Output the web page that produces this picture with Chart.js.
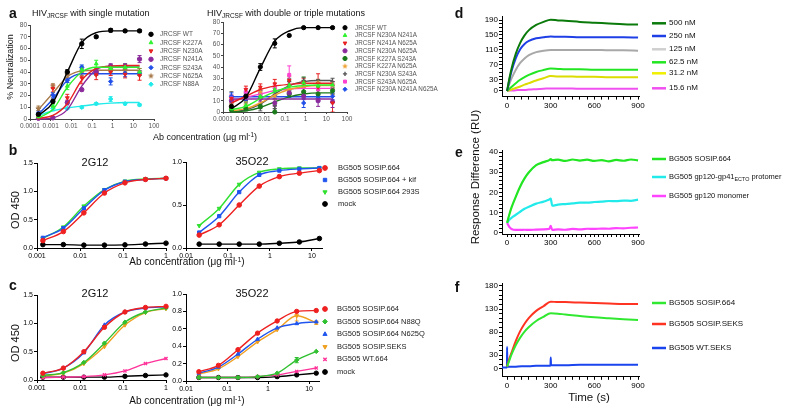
<!DOCTYPE html>
<html><head><meta charset="utf-8">
<script src="https://cdn.jsdelivr.net/npm/chart.js@4.4.1/dist/chart.umd.min.js"></script>
<style>
html,body{margin:0;padding:0;background:#fff;}
body{width:800px;height:415px;overflow:hidden;position:relative;font-family:"Liberation Sans",Arial,Helvetica,sans-serif;}
canvas{position:absolute;}
.t{position:absolute;white-space:nowrap;line-height:1;color:#111;}
.t sub{font-size:72%;vertical-align:-0.35em;line-height:0;}
.t sup{font-size:70%;vertical-align:0.45em;line-height:0;}
</style></head><body>
<script>
// ================= DATA =================
// ---- panel a ----
const aConc = [0.000256, 0.00128, 0.0064, 0.032, 0.16, 0.8, 4, 20];
const aXTicks = [0.0001, 0.001, 0.01, 0.1, 1, 10, 100];
const aXLabels = ['0.0001', '0.001', '0.01', '0.1', '1', '10', '100'];
const aYTicks = [0, 10, 20, 30, 40, 50, 60, 70, 80];
const aYLabels = ['0', '10', '20', '30', '40', '50', '60', '70', '80'];

const aSingleNames = ['JRCSF WT', 'JRCSF K227A', 'JRCSF N230A', 'JRCSF N241A', 'JRCSF S243A', 'JRCSF N625A', 'JRCSF N88A'];
const aSinglePts = [
  [4, 15, 40, 64, 70, 75.5, 75, 75],
  [2, 11, 28, 42, 47, 43, 44, 40],
  [1.5, 26, 18, 35, 37.5, 40, 38, 37],
  [0.6, 1, 14, 25, 40, 45, 45, 51],
  [5, 20.5, 33, 44, 39, 32, 39, 39],
  [9, 28, 38, 40, 40, 41.5, 41.5, 40],
  [4, 9, 9, 10, 13, 17, 13, 12]
];
const aSingleFit = [
  [3, 14, 40, 65, 73.5, 75, 75, 75],
  [1, 8, 27, 40, 44, 44, 44, 44],
  [0.5, 3, 13, 33, 43, 45, 45.5, 45.5],
  [0, 1, 8, 28, 42, 45, 45, 45],
  [4, 17, 33, 38.5, 38.5, 38.5, 38.5, 38.5],
  [8, 22, 36, 41, 41.5, 41.5, 41.5, 41.5],
  [3, 7, 9.5, 11, 12.5, 13.5, 14, 14]
];
const aSingleErr = [
  [5, 2, 2, 4, 1, 1.5, 1, 1],
  [2, 2, 3, 3, 3, 3, 3, 3],
  [1, 3, 3, 5, 4, 3, 3, 4],
  [1, 1, 2, 1, 2, 2, 2, 3],
  [2, 2, 2, 2, 2, 3, 3, 2],
  [2, 2, 3, 3, 3, 3, 3, 3],
  [1, 2, 1, 1, 1, 2, 1, 1]
];

const aMultiNames = ['JRCSF WT', 'JRCSF N230A N241A', 'JRCSF N241A N625A', 'JRCSF N230A N625A', 'JRCSF K227A S243A',
  'JRCSF K227A N625A', 'JRCSF N230A S243A', 'JRCSF S243A N625A', 'JRCSF N230A N241A N625A'];
const aMultiPts = [
  [5, 14, 40, 61, 68, 75, 75, 75],
  [3, 6, 14, 20, 24, 26, 23, 24],
  [12, 20, 22, 25, 28, 26, 22, 8],
  [10, 14, 12, 8, 17, 14, 10, 9],
  [2, 3, 5, 0, 16, 18, 16, 19],
  [5, 6, 18, 14, 20, 25, 26, 24],
  [3, 5, 4, 3, 27, 28, 26, 27],
  [12, 18, 17, 22, 33, 24, 20, 24],
  [14, 13, 16, 15, 16, 8, 12, 14]
];
const aMultiFit = [
  [3, 13, 39, 63, 72, 75, 75, 75],
  [2, 5, 12, 18, 22, 23.5, 24, 24],
  [8, 14, 20, 23, 24.5, 25.5, 25.5, 25.5],
  [11.5, 11.5, 11.5, 11.5, 11.5, 11.5, 11.5, 11.5],
  [0, 1, 4, 9, 13.5, 16, 17, 17],
  [1, 3, 8, 15, 20, 22.5, 23.5, 23.5],
  [0, 2, 7, 16, 23.5, 27, 28, 28],
  [10, 13, 16, 19, 20.5, 21, 21, 21],
  [13.6, 13.6, 13.6, 13.6, 13.6, 13.6, 13.6, 13.6]
];
const aMultiErr = [
  [3, 4, 3, 4, 1, 1, 1, 1],
  [2, 3, 3, 3, 4, 5, 3, 3],
  [3, 3, 3, 4, 4, 4, 12, 8],
  [3, 3, 3, 3, 3, 3, 5, 5],
  [2, 2, 2, 6, 3, 3, 3, 3],
  [2, 3, 3, 3, 3, 3, 3, 3],
  [15, 3, 3, 3, 3, 3, 3, 3],
  [3, 3, 3, 3, 8, 3, 3, 3],
  [3, 3, 3, 3, 3, 4, 3, 3]
];

// ---- panels b, c ----
const conc2G12 = [0.00137, 0.0041, 0.0123, 0.037, 0.111, 0.333, 1];
const conc35O22 = [0.0206, 0.0617, 0.185, 0.556, 1.67, 5, 15];
const x2G12Ticks = [0.001, 0.01, 0.1, 1];
const x2G12Labels = ['0.001', '0.01', '0.1', '1'];
const x35O22Ticks = [0.01, 0.1, 1, 10];
const x35O22Labels = ['0.01', '0.1', '1', '10'];
const od15Ticks = [0, 0.5, 1.0, 1.5];
const od15Labels = ['0.0', '0.5', '1.0', '1.5'];
const od10Ticks = [0, 0.5, 1.0];
const od10Labels = ['0.0', '0.5', '1.0'];
const od10FineTicks = [0, 0.2, 0.4, 0.6, 0.8, 1.0];
const od10FineLabels = ['0.0', '0.2', '0.4', '0.6', '0.8', '1.0'];

const bNames = ['BG505 SOSIP.664', 'BG505 SOSIP.664 + kif', 'BG505 SOSIP.664 293S', 'mock'];
const b2G12 = [
  [0.13, 0.29, 0.62, 0.97, 1.15, 1.21, 1.23],
  [0.18, 0.35, 0.70, 1.02, 1.17, 1.21, 1.23],
  [0.17, 0.37, 0.74, 1.03, 1.18, 1.22, 1.23],
  [0.06, 0.06, 0.05, 0.05, 0.055, 0.07, 0.085]
];
const b35O22 = [
  [0.15, 0.27, 0.50, 0.72, 0.83, 0.87, 0.90],
  [0.18, 0.37, 0.65, 0.85, 0.90, 0.92, 0.93],
  [0.26, 0.46, 0.74, 0.88, 0.92, 0.93, 0.93],
  [0.045, 0.045, 0.045, 0.045, 0.055, 0.07, 0.11]
];

const cNames = ['BG505 SOSIP.664', 'BG505 SOSIP.664 N88Q', 'BG505 SOSIP.664 N625Q', 'BG505 SOSIP.SEKS', 'BG505 WT.664', 'mock'];
const c2G12 = [
  [0.12, 0.21, 0.50, 0.93, 1.20, 1.28, 1.30],
  [0.08, 0.13, 0.31, 0.65, 1.02, 1.20, 1.27],
  [0.11, 0.21, 0.48, 0.97, 1.20, 1.27, 1.29],
  [0.07, 0.12, 0.29, 0.59, 0.97, 1.19, 1.26],
  [0.04, 0.05, 0.06, 0.09, 0.16, 0.29, 0.38],
  [0.05, 0.05, 0.05, 0.05, 0.065, 0.08, 0.09]
];
const c35O22 = [
  [0.107, 0.18, 0.36, 0.55, 0.69, 0.80, 0.81],
  [0.04, 0.04, 0.04, 0.05, 0.09, 0.24, 0.34],
  [0.09, 0.16, 0.31, 0.48, 0.61, 0.66, 0.68],
  [0.08, 0.14, 0.28, 0.45, 0.59, 0.75, 0.67],
  [0.04, 0.04, 0.04, 0.05, 0.07, 0.11, 0.15],
  [0.04, 0.04, 0.04, 0.04, 0.05, 0.07, 0.09]
];
const c35O22Err = [
  [0, 0, 0, 0, 0, 0, 0],
  [0, 0, 0, 0, 0, 0.03, 0],
  [0, 0, 0, 0, 0, 0, 0],
  [0, 0, 0, 0, 0, 0.06, 0.02],
  [0, 0, 0, 0, 0, 0, 0],
  [0, 0, 0, 0, 0, 0, 0]
];

// ---- panel d ----
const dNames = ['500 nM', '250 nM', '125 nM', '62.5 nM', '31.2 nM', '15.6 nM'];
const dTime = [0, 15, 30, 60, 90, 120, 150, 200, 250, 300, 350, 400, 500, 600, 700, 800, 900];
const d500 = [0, 32, 59, 100, 129, 149, 163, 177, 185, 191, 189, 188, 185, 183, 181, 179, 178];
const d250 = [0, 28, 52, 88, 112, 126, 134, 141, 144, 146, 145, 145, 144, 144, 144, 144, 143];
const d125 = [0, 18, 33, 57, 75, 87, 96, 104, 108, 110, 110, 110, 110, 110, 109, 109, 108];
const d62 = [0, 6, 11, 21, 30, 37, 43, 51, 56, 60, 59, 58, 58, 57, 57, 57, 57];
const d31 = [0, 2, 4, 8, 12, 17, 21, 28, 34, 40, 39, 39, 38, 38, 37, 37, 37];
const d15 = [0, 1, 1, 2, 3, 3, 4, 5, 6, 7, 7, 7, 6, 6, 6, 6, 6];
const dYLabelled = [0, 30, 70, 110, 150, 190];

// ---- panel e ----
const eNames = ['BG505 SOSIP.664', 'BG505 gp120-gp41<sub>ECTO</sub> protomer', 'BG505 gp120 monomer'];
const eTime = [0, 15, 30, 60, 90, 120, 150, 200, 250, 290, 300, 310, 350, 400, 450, 500, 550, 600, 650, 700, 750, 800, 850, 900];
const eSOSIP = [5, 9, 12.5, 18, 23, 27, 30, 33.5, 35, 36, 36.5, 36, 36.2, 35.6, 36.3, 35.8, 36.2, 35.6, 36, 35.4, 36.1, 35.7, 36.3, 35.9];
const eProtomer = [5, 6.5, 7.5, 9, 10.5, 12, 13, 14.5, 15.5, 16.5, 17, 13.5, 14, 14.3, 14.6, 15, 15, 15.3, 15.5, 15.8, 15.7, 16, 15.9, 16.5];
const eMonomer = [5, 3, 2, 1.5, 1.5, 1.6, 1.5, 1.7, 1.8, 2, 3.5, 1.5, 1.8, 1.6, 2, 1.8, 2.1, 2, 2.2, 2.1, 2.4, 2.3, 2.6, 2.7];
const eYLabelled = [0, 10, 20, 30, 40];

// ---- panel f ----
const fNames = ['BG505 SOSIP.664', 'BG505 SOSIP.SEKS', 'BG505 WT.SEKS'];
const fTime = [0, 15, 30, 60, 90, 120, 150, 200, 250, 300, 350, 400, 500, 600, 700, 800, 900];
const fSOSIP = [5, 18, 31, 52, 68, 81, 91, 104, 113, 121, 120, 118, 115, 112, 110, 108, 106];
const fSEKS = [5, 22, 35, 61, 82, 98, 111, 126, 136, 146, 145, 145, 144, 143, 142, 141, 141];
const fWTTime = [-35, -1, 0, 2, 50, 100, 150, 200, 250, 298, 300, 302, 400, 500, 600, 700, 800, 900];
const fWT = [3, 3, 48, 5, 5, 6, 6, 7, 7, 7, 25, 8, 8, 9, 9, 9, 9, 9];
const fYLabelled = [0, 30, 80, 130, 180];

const timeLabelled = [0, 300, 600, 900];

// ================= STYLES =================
const FONT = '"Liberation Sans", Arial, Helvetica, sans-serif';
Chart.defaults.font.family = FONT;
const aSingleStyle = [
  {s: 'circle', c: '#000000'}, {s: 'triangle', c: '#2ef22e'}, {s: 'triangleDown', c: '#e82020'},
  {s: 'circle', c: '#8b2a9b'}, {s: 'rectRot', c: '#1f4fe8'}, {s: 'star', c: '#a87a4a'}, {s: 'rectRot', c: '#20eaea'}
];
const aMultiStyle = [
  {s: 'circle', c: '#000000'}, {s: 'triangle', c: '#2ef22e'}, {s: 'triangleDown', c: '#e82020'},
  {s: 'circle', c: '#8b2a9b'}, {s: 'circle', c: '#1a7a1a'}, {s: 'star', c: '#eea030'},
  {s: 'cross', c: '#555555'}, {s: 'rect', c: '#ff40d0'}, {s: 'rectRot', c: '#1f4fe8'}
];
const bStyle = [{s: 'circle', c: '#ee2020'}, {s: 'rect', c: '#1f55ee'}, {s: 'triangleDown', c: '#30e030'}, {s: 'circle', c: '#000000'}];
const cStyle = [{s: 'circle', c: '#ee2020'}, {s: 'rectRot', c: '#30c030'}, {s: 'triangle', c: '#1f55ee'},
  {s: 'triangleDown', c: '#f0a020'}, {s: 'crossRot', c: '#ff3399'}, {s: 'circle', c: '#000000'}];
const dColors = ['#0a7a0a', '#1f3fe6', '#a8a8a8', '#22e622', '#dcdc00', '#f050f0'];
const dLegendColors = ['#0a7a0a', '#1f3fe6', '#cfcfcf', '#22e622', '#f0f000', '#f050f0'];
const eColors = ['#22e622', '#22eaea', '#ff44ff'];
const fColors = ['#30e830', '#ff3322', '#1a44ee'];

// ================= HELPERS =================
function starImg(color, r) {
  const c = document.createElement('canvas');
  const s = Math.ceil(r * 2 + 2); c.width = s; c.height = s;
  const g = c.getContext('2d'); g.fillStyle = color; g.beginPath();
  for (let k = 0; k < 10; k++) {
    const ang = -Math.PI / 2 + k * Math.PI / 5, rr = k % 2 === 0 ? r : r * 0.45;
    g.lineTo(s / 2 + rr * Math.cos(ang), s / 2 + rr * Math.sin(ang));
  }
  g.closePath(); g.fill(); return c;
}
function ptProps(st, r) {
  const p = {pointRadius: r, pointBackgroundColor: st.c, pointBorderColor: st.c, pointBorderWidth: 1, pointRotation: 0, pointStyle: st.s};
  if (st.s === 'triangleDown') { p.pointStyle = 'triangle'; p.pointRotation = 180; }
  if (st.s === 'star') p.pointStyle = starImg(st.c, r * 1.45);
  if (st.s === 'cross' || st.s === 'crossRot') p.pointBorderWidth = 1.4;
  return p;
}
const errPlugin = {
  id: 'errbars',
  beforeDatasetsDraw(chart) {
    const ctx = chart.ctx, ys = chart.scales.y, ca = chart.chartArea;
    ctx.save();
    ctx.beginPath(); ctx.rect(ca.left - 6, ca.top - 8, ca.right - ca.left + 12, ca.bottom - ca.top + 8); ctx.clip();
    chart.data.datasets.forEach((ds, i) => {
      if (!ds.errors) return;
      const meta = chart.getDatasetMeta(i);
      ctx.strokeStyle = ds.pointBorderColor; ctx.lineWidth = 1;
      meta.data.forEach((el, j) => {
        const e = ds.errors[j]; if (!e) return;
        const v = ds.data[j].y;
        const y1 = ys.getPixelForValue(v + e), y2 = ys.getPixelForValue(v - e);
        ctx.beginPath();
        ctx.moveTo(el.x, y1); ctx.lineTo(el.x, y2);
        ctx.moveTo(el.x - 2, y1); ctx.lineTo(el.x + 2, y1);
        ctx.moveTo(el.x - 2, y2); ctx.lineTo(el.x + 2, y2);
        ctx.stroke();
      });
    });
    ctx.restore();
  }
};
function axis(o) {
  return {
    type: o.type || 'linear', position: o.pos, min: o.min, max: o.max,
    grid: {display: true, drawOnChartArea: false, drawTicks: true, tickLength: o.tl ?? 3, color: o.ac || '#000', lineWidth: 1},
    border: {display: true, color: o.ac || '#000', width: 1},
    ticks: {autoSkip: false, maxRotation: 0, minRotation: 0, padding: o.pad ?? 1, color: o.tc || '#000', font: {size: o.fs || 7, family: FONT},
      callback: (v) => {
        const k = o.labelled.findIndex(t => Math.abs(t - v) <= Math.abs(t) * 1e-6 + 1e-9);
        return k >= 0 ? o.labels[k] : '';
      }},
    afterBuildTicks: s => { s.ticks = o.ticks.map(v => ({value: v})); },
    afterFit: s => {
      if (o.pos === 'bottom') s.height = o.size; else s.width = o.size;
      s.paddingLeft = 0; s.paddingRight = 0; s.paddingTop = 0; s.paddingBottom = 0;
    }
  };
}
function makeChart(box, datasets, xA, yA) {
  const c = document.createElement('canvas');
  const left = Math.floor(box.L - box.yw), top = Math.floor(box.T - box.pt);
  const W = Math.ceil(box.R + box.pr) - left, H = Math.ceil(box.B + box.xh) - top;
  c.width = W; c.height = H; c.style.left = left + 'px'; c.style.top = top + 'px';
  document.body.appendChild(c);
  return new Chart(c, {
    type: 'scatter', data: {datasets},
    options: {
      responsive: false, animation: false, events: [], devicePixelRatio: 1,
      layout: {padding: {left: box.L - box.yw - left, top: box.T - top, right: W - (box.R - left), bottom: H - (box.B - top) - box.xh}},
      plugins: {legend: {display: false}, tooltip: {enabled: false}, title: {display: false}},
      scales: {x: xA, y: yA}
    },
    plugins: [errPlugin]
  });
}
function doseSets(conc, ptsArr, fitArr, errArr, styles, r, lw) {
  const sets = [];
  ptsArr.forEach((pts, i) => {
    const st = styles[i];
    sets.push(Object.assign({
      data: conc.map((x, j) => ({x, y: pts[j]})), showLine: !fitArr, borderColor: st.c, borderWidth: lw,
      cubicInterpolationMode: 'monotone', clip: false, errors: errArr ? errArr[i] : null
    }, ptProps(st, r)));
    if (fitArr) sets.push({data: conc.map((x, j) => ({x, y: fitArr[i][j]})), showLine: true, borderColor: st.c,
      borderWidth: lw, pointRadius: 0, cubicInterpolationMode: 'monotone', clip: false});
  });
  return sets;
}
function timeSet(time, vals, color, lw) {
  return {data: time.map((t, j) => ({x: t, y: vals[j]})), showLine: true, borderColor: color, borderWidth: lw,
    pointRadius: 0, cubicInterpolationMode: 'monotone', clip: false};
}
function range(a, b, step) { const r = []; for (let v = a; v <= b + 1e-9; v += step) r.push(+v.toFixed(6)); return r; }
function txt(html, x, y, o = {}) {
  const d = document.createElement('div');
  d.className = 't'; d.innerHTML = html;
  d.style.fontSize = (o.size || 8) + 'px';
  if (o.bold) d.style.fontWeight = 'bold';
  if (o.color) d.style.color = o.color;
  d.style.left = x + 'px'; d.style.top = y + 'px';
  let tr = (o.anchor === 'c') ? 'translate(-50%,-50%)' : 'translate(0,-50%)';
  if (o.rot) tr = 'translate(-50%,-50%) rotate(-90deg)';
  d.style.transform = tr;
  document.body.appendChild(d);
}

// ================= PANEL a =================
const aXcommon = {type: 'logarithmic', pos: 'bottom', min: 0.0001, max: 100, ticks: aXTicks, labelled: aXTicks, labels: aXLabels, size: 14, fs: 6.5, tc: '#555', ac: '#444', tl: 2};
const aYcommon = {pos: 'left', min: 0, max: 80, ticks: aYTicks, labelled: aYTicks, labels: aYLabels, size: 18, fs: 6.5, tc: '#555', ac: '#444', tl: 2};
makeChart({L: 30, R: 154, T: 25, B: 119, yw: 18, xh: 14, pt: 6, pr: 10},
  doseSets(aConc, aSinglePts, aSingleFit, aSingleErr, aSingleStyle, 2.2, 1.4), axis(aXcommon), axis(aYcommon));
makeChart({L: 223, R: 347, T: 22, B: 112, yw: 18, xh: 14, pt: 6, pr: 10},
  doseSets(aConc, aMultiPts, aMultiFit, aMultiErr, aMultiStyle, 2.1, 1.4), axis(aXcommon), axis(aYcommon));

// ================= PANEL b =================
const x2G12Ax = {type: 'logarithmic', pos: 'bottom', min: 0.001, max: 1, ticks: x2G12Ticks, labelled: x2G12Ticks, labels: x2G12Labels, size: 14, fs: 7};
const x35Ax = {type: 'logarithmic', pos: 'bottom', min: 0.01, max: 18, ticks: x35O22Ticks, labelled: x35O22Ticks, labels: x35O22Labels, size: 14, fs: 7};
makeChart({L: 37, R: 166, T: 163, B: 248, yw: 18, xh: 14, pt: 6, pr: 8},
  doseSets(conc2G12, b2G12, null, null, bStyle, 2.3, 1.4), axis(x2G12Ax),
  axis({pos: 'left', min: 0, max: 1.5, ticks: od15Ticks, labelled: od15Ticks, labels: od15Labels, size: 18, fs: 7}));
makeChart({L: 186, R: 322.7, T: 162, B: 248, yw: 18, xh: 14, pt: 6, pr: 8},
  doseSets(conc35O22, b35O22, null, null, bStyle, 2.3, 1.4), axis(x35Ax),
  axis({pos: 'left', min: 0, max: 1.0, ticks: od10Ticks, labelled: od10Ticks, labels: od10Labels, size: 18, fs: 7}));

// ================= PANEL c =================
makeChart({L: 37, R: 166, T: 295, B: 380, yw: 18, xh: 14, pt: 6, pr: 8},
  doseSets(conc2G12, c2G12, null, null, cStyle, 2.2, 1.4), axis(x2G12Ax),
  axis({pos: 'left', min: 0, max: 1.5, ticks: od15Ticks, labelled: od15Ticks, labels: od15Labels, size: 18, fs: 7}));
makeChart({L: 186, R: 319.5, T: 294, B: 381, yw: 18, xh: 14, pt: 6, pr: 8},
  doseSets(conc35O22, c35O22, null, c35O22Err, cStyle, 2.2, 1.4), axis(x35Ax),
  axis({pos: 'left', min: 0, max: 1.0, ticks: od10FineTicks, labelled: od10FineTicks, labels: od10FineLabels, size: 18, fs: 7}));

// ================= PANELS d, e, f =================
const dX = axis({pos: 'bottom', min: -35, max: 910, ticks: range(0, 900, 50), labelled: timeLabelled, labels: timeLabelled.map(String), size: 14, fs: 8});
const eX = axis({pos: 'bottom', min: -35, max: 910, ticks: range(0, 900, 30), labelled: timeLabelled, labels: timeLabelled.map(String), size: 14, fs: 8});
makeChart({L: 502, R: 639.5, T: 16.3, B: 96.6, yw: 22, xh: 14, pt: 6, pr: 10},
  [d500, d250, d125, d62, d31, d15].map((v, i) => timeSet(dTime, v, dColors[i], 2)), dX,
  axis({pos: 'left', min: -15, max: 200, ticks: [0].concat(range(10, 190, 10)), labelled: dYLabelled, labels: dYLabelled.map(String), size: 22, fs: 8}));
makeChart({L: 502, R: 639.5, T: 150, B: 234, yw: 22, xh: 14, pt: 6, pr: 10},
  [eSOSIP, eProtomer, eMonomer].map((v, i) => timeSet(eTime, v, eColors[i], 2.2)), eX,
  axis({pos: 'left', min: -0.5, max: 41, ticks: range(0, 40, 2), labelled: eYLabelled, labels: eYLabelled.map(String), size: 22, fs: 8}));
makeChart({L: 502, R: 639.5, T: 283.2, B: 376.8, yw: 22, xh: 14, pt: 6, pr: 10},
  [timeSet(fTime, fSOSIP, fColors[0], 2), timeSet(fTime, fSEKS, fColors[1], 2), timeSet(fWTTime, fWT, fColors[2], 2)], dX,
  axis({pos: 'left', min: -17, max: 186, ticks: range(0, 180, 10), labelled: fYLabelled, labels: fYLabelled.map(String), size: 22, fs: 8}));

// ================= LEGENDS (markers/lines on overlay) =================
const ov = document.createElement('canvas');
ov.width = 800; ov.height = 415; ov.style.left = '0px'; ov.style.top = '0px';
document.body.appendChild(ov);
const octx = ov.getContext('2d');
function legendMarker(st, x, y, r) {
  const p = ptProps(st, r);
  octx.save(); octx.fillStyle = st.c; octx.strokeStyle = st.c; octx.lineWidth = p.pointBorderWidth;
  if (Chart.helpers && Chart.helpers.drawPoint) {
    Chart.helpers.drawPoint(octx, {pointStyle: p.pointStyle, rotation: p.pointRotation, radius: r, borderWidth: p.pointBorderWidth}, x, y);
  } else { octx.beginPath(); octx.arc(x, y, r, 0, Math.PI * 2); octx.fill(); }
  octx.restore();
}
function legendLine(color, x1, x2, y, w) {
  octx.save(); octx.strokeStyle = color; octx.lineWidth = w; octx.beginPath(); octx.moveTo(x1, y); octx.lineTo(x2, y); octx.stroke(); octx.restore();
}
aSingleNames.forEach((n, i) => { const y = 34.3 + 8.33 * i; legendMarker(aSingleStyle[i], 151, y, 2.2); txt(n, 160, y, {size: 6.5, color: '#555'}); });
aMultiNames.forEach((n, i) => { const y = 27.7 + 7.7 * i; legendMarker(aMultiStyle[i], 345, y, 2.1); txt(n, 355, y, {size: 6.3, color: '#555'}); });
bNames.forEach((n, i) => { const y = 168 + 12 * i; legendMarker(bStyle[i], 325, y, 2.4); txt(n, 338, y, {size: 7.5, color: '#222'}); });
cNames.forEach((n, i) => { const y = 309 + 12.6 * i; legendMarker(cStyle[i], 325, y, 2.4); txt(n, 337, y, {size: 7.5, color: '#222'}); });
const dLegY = [23.3, 36, 49.3, 62.3, 73.3, 88.3];
dNames.forEach((n, i) => { legendLine(dLegendColors[i], 652, 666, dLegY[i], 2.5); txt(n, 669, dLegY[i], {size: 8}); });
const eLegY = [159, 177, 196];
eNames.forEach((n, i) => { legendLine(eColors[i], 652, 666, eLegY[i], 2.5); txt(n, 669, eLegY[i], {size: 7.5}); });
const fLegY = [303, 324, 348];
fNames.forEach((n, i) => { legendLine(fColors[i], 652, 666, fLegY[i], 2.5); txt(n, 669, fLegY[i], {size: 8}); });

// ================= TEXT =================
txt('a', 13, 13, {size: 14, bold: true, anchor: 'c'});
txt('b', 13, 150, {size: 14, bold: true, anchor: 'c'});
txt('c', 13, 285, {size: 14, bold: true, anchor: 'c'});
txt('d', 459, 13, {size: 14, bold: true, anchor: 'c'});
txt('e', 459, 152, {size: 14, bold: true, anchor: 'c'});
txt('f', 457, 287, {size: 14, bold: true, anchor: 'c'});
txt('HIV<sub>JRCSF</sub> with single mutation', 32, 13, {size: 9});
txt('HIV<sub>JRCSF</sub> with double or triple mutations', 207, 13, {size: 9});
txt('% Neutralization', 10, 67, {size: 9, rot: true});
txt('Ab concentration (μg ml<sup>-1</sup>)', 205, 137, {size: 9, anchor: 'c'});
txt('2G12', 95, 162, {size: 11, anchor: 'c'});
txt('35O22', 252, 161, {size: 11, anchor: 'c'});
txt('2G12', 95, 293, {size: 11, anchor: 'c'});
txt('35O22', 252, 293, {size: 11, anchor: 'c'});
txt('OD 450', 15, 210, {size: 11, rot: true});
txt('OD 450', 15, 343, {size: 11, rot: true});
txt('Ab concentration (μg ml<sup>-1</sup>)', 187, 262, {size: 10, anchor: 'c'});
txt('Ab concentration (μg ml<sup>-1</sup>)', 187, 401, {size: 10, anchor: 'c'});
txt('Response Difference (RU)', 476, 177, {size: 11.5, rot: true});
txt('Time (s)', 589, 398, {size: 11.5, anchor: 'c'});
</script>
</body></html>
